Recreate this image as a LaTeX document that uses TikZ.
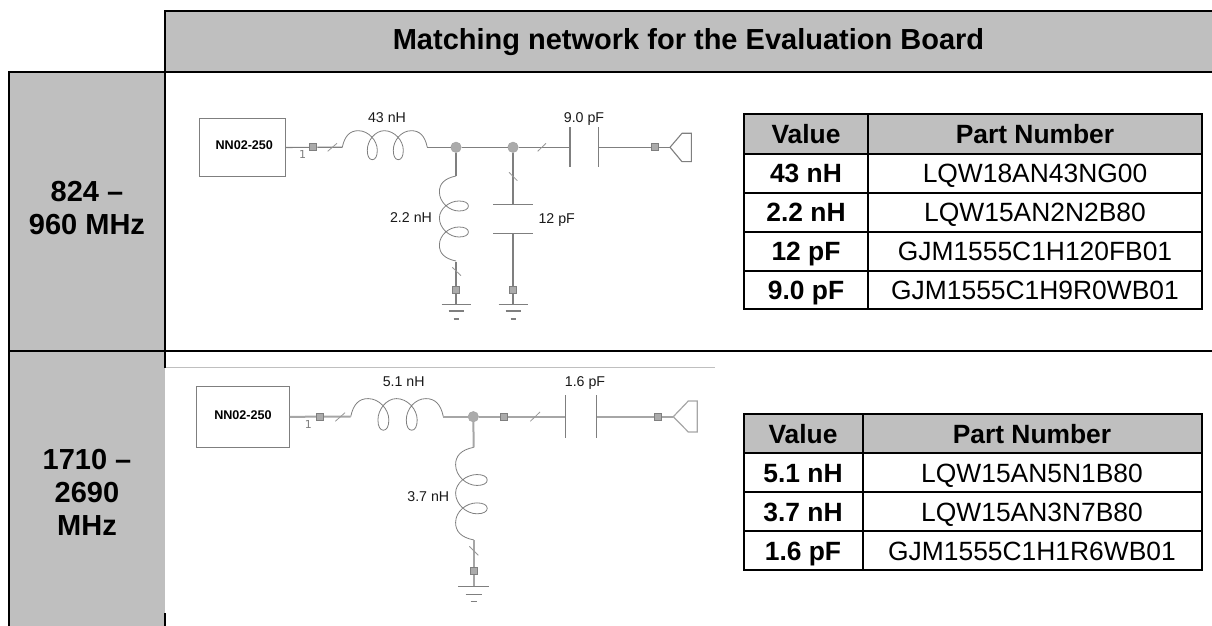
\documentclass[tikz,border=0pt]{standalone}
\usepackage{fontspec}
\setmainfont{Liberation Sans}
\newfontfamily\dvfont{DejaVu Sans}
\definecolor{band}{HTML}{BFBFBF}
\definecolor{wirec}{HTML}{7F7F7F}
\definecolor{wirel}{HTML}{A6A6A6}
\definecolor{portc}{HTML}{ABABAB}
\newcommand{\coilpath}{(0,0) .. controls (2.5,-12) and (8,-16.6) .. (16,-16.6)
 .. controls (26,-16.6) and (35,-7) .. (35,3) .. controls (35,9) and (33,12.4) .. (30,12.4)
 .. controls (27,12.4) and (25,9) .. (25,3) .. controls (25,-7) and (33,-16.6) .. (42,-16.6)
 .. controls (52,-16.6) and (61,-7) .. (61,3) .. controls (61,9) and (59,12.4) .. (56,12.4)
 .. controls (53,12.4) and (51,9) .. (51,3) .. controls (51,-7) and (59,-16.6) .. (69,-16.6)
 .. controls (77,-16.6) and (82.5,-12) .. (85,0)}
\tikzset{
  x=0.5pt,y=-0.5pt,
  blk/.style={line width=1pt,black,line cap=rect},
  wire/.style={line width=0.55pt,wirec},
  wireb/.style={line width=1pt,wirel},
  thin wire/.style={line width=0.4pt,wirec},
  tick/.style={line width=0.4pt,wirec!80},
  coilline/.style={line width=0.4pt,wirec},
  coil/.pic={\draw[coilline] \coilpath;},
  port/.style={draw=wirec,fill=portc,line width=0.45pt,rectangle,inner sep=0pt,minimum size=3.6pt},
  junction/.style={draw=wirec!70,fill=portc,line width=0.3pt,circle,inner sep=0pt,minimum size=5.2pt},
  blockbox/.style={draw=wirec,line width=0.5pt,rectangle,inner sep=0pt,fill=white},
  partlabel/.style={inner sep=0pt,font=\fontsize{7.1}{8}\selectfont,text height=5.1pt,text depth=0pt,text=black!90},
  blocklabel/.style={inner sep=0pt,font=\fontsize{6.3}{7}\selectfont\bfseries,text height=4.5pt,text depth=0pt},
  pinlabel/.style={inner sep=0pt,font=\fontsize{5.5}{6}\selectfont\dvfont,text=wirec},
  headtext/.style={inner sep=0pt,font=\fontsize{14.5}{16.5}\selectfont\bfseries,align=center},
  cell/.style={inner sep=0pt,font=\fontsize{13.2}{15}\selectfont,text height=9.45pt,text depth=0pt},
  cellb/.style={cell,font=\fontsize{13.2}{15}\selectfont\bfseries},
}
\begin{document}
\begin{tikzpicture}
\useasboundingbox (0,0) rectangle (1212,626);
% grey bands
\fill[band] (165,11) rectangle (1212,72.5);
\fill[band] (9,72.5) rectangle (165,626);
% frame
\draw[blk] (1212,11) -- (165,11) -- (165,367);
\draw[blk] (9,626) -- (9,72.5) -- (1212,72.5);
\draw[blk] (9,351) -- (1212,351);
\draw[blk] (165,614) -- (165,626);
\draw[line width=0.5pt,band] (165.5,367) -- (715,367);
% heads
\node[headtext] (head) at (688.5,42) {Matching network for the Evaluation Board};
\node[headtext] (band1) at (87,208.5) {824 –\\960 MHz};
\node[headtext] (band2) at (87,492.7) {1710 –\\2690\\MHz};
% ---- schematic 1
\node[blockbox,minimum width=43pt,minimum height=28.8pt] (box1) at (242.3,147.5) {};
\node[blocklabel] (boxt1) at (244.3,145) {NN02-250};
\node[pinlabel] (pin1) at (302.7,154.3) {1};
\node[port] (p1) at (313.3,147.3) {};
\coordinate (c1a) at (342.3,147.3);
\coordinate (c1b) at (427.3,147.3);
\pic at (c1a) {coil};
\node[junction] (j1) at (456,147.3) {};
\node[junction] (j2) at (513,147.3) {};
\coordinate (c2a) at (456,176);
\coordinate (c2b) at (456,261.7);
\pic[rotate=-90,yscale=-1] at (c2a) {coil};
\node[port] (p2) at (456,290) {};
\node[port] (p3) at (513,290) {};
\coordinate (g1) at (456,304.7);
\coordinate (g2) at (513,304.7);
\coordinate (k1a) at (570,147.3);
\coordinate (k1b) at (598.3,147.3);
\coordinate (k2a) at (513,204.3);
\coordinate (k2b) at (513,233.3);
\node[port] (p4) at (655,147.3) {};
\coordinate (a1) at (670,147.3);
\draw[wire] (box1.east) -- (p1) -- (c1a);
\draw[wire] (c1b) -- (j1);
\draw[wire] (j1) -- (j2);
\draw[wire] (j2) -- (k1a);
\draw[wire] (k1b) -- (p4) -- (a1);
\draw[wire] (j1) -- (c2a);
\draw[wire] (c2b) -- (p2) -- (g1);
\draw[wire] (j2) -- (k2a);
\draw[wire] (k2b) -- (p3) -- (g2);
\draw[wire] (570,127.3) -- (570,167.3);
\draw[wire] (598.3,127.3) -- (598.3,167.3);
\draw[wire] (493.3,204.3) -- (532.7,204.3);
\draw[wire] (493.3,233.3) -- (532.7,233.3);
\draw[wire] (a1) -- (682,133.3) -- (691.3,133.3) -- (691.3,161.7) -- (682,161.7) -- cycle;
\foreach \g in {456,513}{
  \draw[wire] (\g-14.5,304.7) -- (\g+14.5,304.7);
  \draw[wire] (\g-7.5,311) -- (\g+7.5,311);
  \draw[wire] (\g-2.5,319) -- (\g+2.5,319);
}
\draw[tick] (327.7,151.3) -- (337,143.3);
\draw[tick] (537.7,151.3) -- (546,143.3);
\draw[tick] (452.3,267.3) -- (461,275.7);
\draw[tick] (509,172.3) -- (517.3,180.7);
\node[partlabel] (l43) at (387,117.7) {43 nH};
\node[partlabel] (l22) at (411,217.7) {2.2 nH};
\node[partlabel] (l90) at (584,117.7) {9.0 pF};
\node[partlabel] (l12) at (556.7,218) {12 pF};
% ---- schematic 2
\node[blockbox,minimum width=46.5pt,minimum height=30.8pt] (box2) at (242.8,416.8) {};
\node[blocklabel] (boxt2) at (243,415.3) {NN02-250};
\node[pinlabel] (pin2) at (308.3,424.7) {1};
\node[port] (q1) at (320,416.7) {};
\coordinate (c3a) at (350.7,416.7);
\coordinate (c3b) at (443.3,416.7);
\pic[scale=1.09] at (c3a) {coil};
\node[junction] (j3) at (473.3,416.7) {};
\node[port] (q2) at (504.3,416.7) {};
\coordinate (k3a) at (565.7,416.7);
\coordinate (k3b) at (596.3,416.7);
\node[port] (q3) at (658,416.7) {};
\coordinate (a2) at (673.3,416.7);
\coordinate (c4a) at (473.7,447.3);
\coordinate (c4b) at (473.7,540);
\pic[rotate=-90,yscale=-1,scale=1.09] at (c4a) {coil};
\node[port] (q4) at (473.7,570.7) {};
\coordinate (g3) at (473.7,586.3);
\draw[wireb] (box2.east) -- (q1) -- (c3a);
\draw[wireb] (c3b) -- (j3);
\draw[wireb] (j3) -- (q2) -- (k3a);
\draw[wireb] (k3b) -- (q3) -- (a2);
\draw[wireb] (j3) -- (c4a);
\draw[wireb] (c4b) -- (q4) -- (g3);
\draw[wire] (565.7,395) -- (565.7,437.7);
\draw[wire] (596.3,395) -- (596.3,437.7);
\draw[wireb,line width=0.6pt] (a2) -- (688.3,401) -- (697.3,401) -- (697.3,432) -- (688.3,432) -- cycle;
\draw[wire] (458,586.3) -- (489,586.3);
\draw[wire] (465.7,594.3) -- (481.7,594.3);
\draw[wire] (470.7,601.3) -- (476.7,601.3);
\draw[tick] (335.3,421.3) -- (345,412.7);
\draw[tick] (530.3,421.3) -- (540,412);
\draw[tick] (469.3,546.3) -- (478.3,555.3);
\node[partlabel] (l51) at (403.7,381.7) {5.1 nH};
\node[partlabel] (l16) at (585,381.7) {1.6 pF};
\node[partlabel] (l37) at (428.3,496.7) {3.7 nH};
% ---- table 1
\fill[band] (744,114) rectangle (1202,153.7);
\draw[blk] (744,114) rectangle (1202,309.3);
\draw[blk] (868,114) -- (868,309.3);
\foreach \r in {153.7,192.7,231.7,270.7} \draw[blk] (744,\r) -- (1202,\r);
\node[cellb] (av) at (806,134) {Value};
\node[cellb] (ap) at (1035,134) {Part Number};
\node[cellb] (a1v) at (806,173.5) {43 nH};
\node[cell] (a1p) at (1035,173.5) {LQW18AN43NG00};
\node[cellb] (a2v) at (806,212.5) {2.2 nH};
\node[cell] (a2p) at (1035,212.5) {LQW15AN2N2B80};
\node[cellb] (a3v) at (806,251) {12 pF};
\node[cell] (a3p) at (1035,251) {GJM1555C1H120FB01};
\node[cellb] (a4v) at (806,290) {9.0 pF};
\node[cell] (a4p) at (1035,290) {GJM1555C1H9R0WB01};
% ---- table 2
\fill[band] (744,414) rectangle (1202,452.7);
\draw[blk] (744,414) rectangle (1202,570);
\draw[blk] (863,414) -- (863,570);
\foreach \r in {452.7,491.7,531} \draw[blk] (744,\r) -- (1202,\r);
\node[cellb] (bv) at (803,434) {Value};
\node[cellb] (bp) at (1032,434) {Part Number};
\node[cellb] (b1v) at (803,473) {5.1 nH};
\node[cell] (b1p) at (1032,473) {LQW15AN5N1B80};
\node[cellb] (b2v) at (803,512) {3.7 nH};
\node[cell] (b2p) at (1032,512) {LQW15AN3N7B80};
\node[cellb] (b3v) at (803,551) {1.6 pF};
\node[cell] (b3p) at (1032,551) {GJM1555C1H1R6WB01};
\end{tikzpicture}
\end{document}
